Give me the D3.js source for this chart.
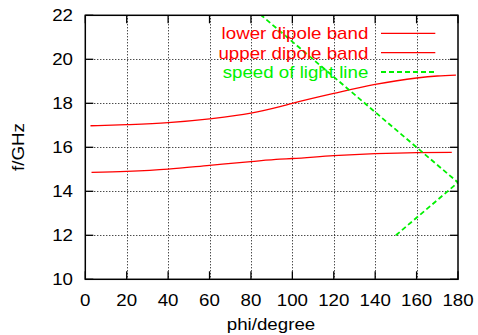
<!DOCTYPE html>
<html><head><meta charset="utf-8">
<script src="https://cdn.jsdelivr.net/npm/d3@7"></script>
<style>body{margin:0;background:#fff}svg{display:block}</style>
</head><body>
<svg id="c" width="478" height="335"></svg>
<script>
const xTicks = [0,20,40,60,80,100,120,140,160,180];
const yTicks = [10,12,14,16,18,20,22];
const seriesNames = ["lower dipole band","upper dipole band","speed of light line"];
const lowerPhi = [3,20,40,60,80,94,100,120,140,160,177];
const lowerF   = [14.86,14.91,15.01,15.18,15.35,15.46,15.49,15.62,15.71,15.76,15.77];
const upperPhi = [2.5,20,40,60,80,94,100,120,140,160,170,179];
const upperF   = [16.98,17.03,17.12,17.29,17.55,17.85,18.0,18.45,18.86,19.15,19.24,19.28];
const lightPhi = [150,180,85];
const lightF   = [12.0,14.4,22.0];

const svg = d3.select("#c");
const L=85.3,R=458,T=15.3,B=279.3;
const x = d3.scaleLinear().domain([0,180]).range([L,R]);
const y = d3.scaleLinear().domain([10,22]).range([B,T]);
const FS = 16, SX = 1.17;
const font = "'Liberation Sans', Arial, sans-serif";
const GREEN = "#00f000", RED = "#ff0000";

function txt(px,py,s,anchor,color,rot){
  return svg.append("text")
    .attr("transform",`translate(${px},${py})`+(rot?` rotate(${rot})`:"")+` scale(${SX},1)`)
    .attr("text-anchor",anchor).attr("font-family",font).attr("font-size",FS)
    .attr("fill",color||"#000").text(s);
}

// grid
const g = svg.append("g").attr("stroke","#000").attr("stroke-width",1).attr("stroke-dasharray","1,2");
xTicks.filter(d=>d>0&&d<180).forEach(d=>{
  g.append("line").attr("x1",Math.round(x(d))+0.5).attr("x2",Math.round(x(d))+0.5).attr("y1",T).attr("y2",B);
});
yTicks.filter(d=>d>10&&d<22).forEach(d=>{
  g.append("line").attr("y1",Math.round(y(d))+0.5).attr("y2",Math.round(y(d))+0.5).attr("x1",L).attr("x2",R);
});

// ticks
const tk = svg.append("g").attr("stroke","#000").attr("stroke-width",1.3);
const TL=8;
xTicks.forEach(d=>{
  const xx=x(d);
  tk.append("line").attr("x1",xx).attr("x2",xx).attr("y1",B).attr("y2",B-TL);
  tk.append("line").attr("x1",xx).attr("x2",xx).attr("y1",T).attr("y2",T+TL);
  txt(xx,306,String(d),"middle");
});
yTicks.forEach(d=>{
  const yy=y(d);
  tk.append("line").attr("x1",L).attr("x2",L+TL).attr("y1",yy).attr("y2",yy);
  tk.append("line").attr("x1",R).attr("x2",R-TL).attr("y1",yy).attr("y2",yy);
  txt(73,yy+5.7,String(d),"end");
});

svg.append("clipPath").attr("id","clip").append("rect").attr("x",L).attr("y",T).attr("width",R-L).attr("height",B-T);

const line = d3.line().x(d=>x(d[0])).y(d=>y(d[1])).curve(d3.curveMonotoneX);
const lineLin = d3.line().x(d=>x(d[0])).y(d=>y(d[1]));
const pg = svg.append("g").attr("clip-path","url(#clip)").attr("fill","none");
pg.append("path").attr("d",line(lowerPhi.map((p,i)=>[p,lowerF[i]]))).attr("stroke",RED).attr("stroke-width",1.3);
pg.append("path").attr("d",line(upperPhi.map((p,i)=>[p,upperF[i]]))).attr("stroke",RED).attr("stroke-width",1.3);
pg.append("path").attr("d",lineLin(lightPhi.map((p,i)=>[p,lightF[i]]))).attr("stroke",GREEN).attr("stroke-width",1.8).attr("stroke-dasharray","5,3");

// legend
const colors=[RED,RED,GREEN];
const rowsY=[33.3,52.7,72];
seriesNames.forEach((n,i)=>{
  txt(368.3,rowsY[i]+5.8,n,"end",colors[i]);
  svg.append("line").attr("x1",381).attr("x2",435.3).attr("y1",rowsY[i]).attr("y2",rowsY[i])
    .attr("stroke",colors[i]).attr("stroke-width",i==2?1.8:1.3).attr("stroke-dasharray",i==2?"5,3":null);
});

// border
svg.append("rect").attr("x",L).attr("y",T).attr("width",R-L).attr("height",B-T)
  .attr("fill","none").attr("stroke","#000").attr("stroke-width",1.5);

txt(271,330,"phi/degree","middle");
txt(24,147,"f/GHz","middle","#000",-90);
</script>
</body></html>
